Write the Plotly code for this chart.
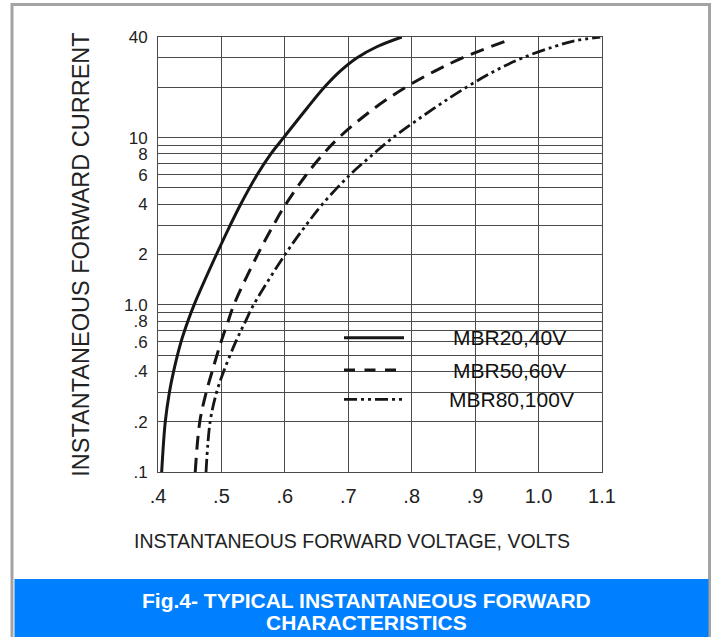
import plotly.graph_objects as go
import numpy as np

# ---- data ----
series_names = ["MBR20,40V", "MBR50,60V", "MBR80,100V"]

mbr20_v = [0.4058, 0.4115, 0.4180, 0.4246, 0.4363, 0.4472, 0.4569, 0.4921, 0.5139, 0.5304,
           0.5563, 0.5779, 0.5980, 0.6349, 0.6622, 0.6872, 0.7133, 0.7459, 0.7844]
mbr20_i = [0.1, 0.2, 0.3, 0.4, 0.6, 0.8, 1.0, 2, 3, 4, 6, 8, 10, 15, 20, 25, 30, 35.1, 40]

mbr50_v = [0.4587, 0.4659, 0.4761, 0.4854, 0.4994, 0.5107, 0.5196, 0.5571, 0.5867, 0.6015,
           0.6338, 0.6607, 0.6851, 0.7411, 0.7903, 0.8364, 0.8800, 0.9513]
mbr50_i = [0.1, 0.2, 0.3, 0.4, 0.6, 0.8, 1.0, 2, 3.22, 4, 6, 8, 10, 15, 20, 25, 30, 38.2]

mbr80_v = [0.4757, 0.4822, 0.4924, 0.5036, 0.5225, 0.5382, 0.5508, 0.6003, 0.6336, 0.6592,
           0.7027, 0.7399, 0.7703, 0.8355, 0.8861, 0.9306, 0.9747, 1.0242, 1.0583, 1.0972]
mbr80_i = [0.1, 0.2, 0.3, 0.4, 0.6, 0.8, 1.0, 2, 3, 4, 6, 8, 10, 15, 20, 25, 30, 35, 38, 40]

x_tickvals = [0.4, 0.5, 0.6, 0.7, 0.8, 0.9, 1.0, 1.1]
x_ticktext = [".4", ".5", ".6", ".7", ".8", ".9", "1.0", "1.1"]

y_gridvals = [0.1, 0.2, 0.3, 0.4, 0.5, 0.6, 0.7, 0.8, 0.9, 1, 2, 3, 4, 5, 6, 7, 8, 9, 10, 20, 30, 40]
y_labels = {0.1: ".1", 0.2: ".2", 0.4: ".4", 0.6: ".6", 0.8: ".8", 1: "1.0",
            2: "2", 4: "4", 6: "6", 8: "8", 10: "10", 40: "40"}
y_ticktext = [y_labels.get(v, "") for v in y_gridvals]

x_title = "INSTANTANEOUS FORWARD VOLTAGE, VOLTS"
y_title = "INSTANTANEOUS FORWARD CURRENT"
caption_lines = ["Fig.4- TYPICAL INSTANTANEOUS FORWARD", "CHARACTERISTICS"]

# ---- layout geometry (pixels) ----
W, H = 716, 637
L, R, T, B = 158, 114, 37, 165
PW, PH = W - L - R, H - T - B


def px(xp):
    return (xp - L) / PW


def py(yp):
    return (H - B - yp) / PH


FONT = "Liberation Sans, Arial, Helvetica, sans-serif"
ink = "#161616"
grid = "#4a4a4a"
dash_style = "14px,8px"
dashdot_style = "13px,4px,3px,4px,3px,4px"

fig = go.Figure()
fig.add_trace(go.Scatter(x=mbr20_v, y=mbr20_i, name=series_names[0], mode="lines",
                         line=dict(color=ink, width=3, shape="spline", smoothing=1.0), showlegend=False))
fig.add_trace(go.Scatter(x=mbr50_v, y=mbr50_i, name=series_names[1], mode="lines",
                         line=dict(color=ink, width=3, dash=dash_style, shape="spline", smoothing=1.0), showlegend=False))
fig.add_trace(go.Scatter(x=mbr80_v, y=mbr80_i, name=series_names[2], mode="lines",
                         line=dict(color=ink, width=2.8, dash=dashdot_style, shape="spline", smoothing=1.0), showlegend=False))

shapes = []
# outer grey frame
shapes.append(dict(type="rect", xref="paper", yref="paper",
                   x0=px(12), x1=px(709.5), y0=py(4.5), y1=py(660),
                   line=dict(color="#a3a3a3", width=3), fillcolor="rgba(0,0,0,0)", layer="below"))
# blue caption banner
shapes.append(dict(type="rect", xref="paper", yref="paper",
                   x0=px(14.5), x1=px(708.5), y0=py(579), y1=py(640),
                   line=dict(width=0), fillcolor="#0080ff", layer="above"))
# white legend box (hides gridlines, under curves)
shapes.append(dict(type="rect", xref="paper", yref="paper",
                   x0=px(306), x1=px(590), y0=py(439), y1=py(309),
                   line=dict(width=0), fillcolor="white", layer="between"))
# legend samples
legend_rows = [(337.7, None, 3), (370, "11px,9.5px", 3), (399.3, dashdot_style, 2.8)]
for yy, dsh, wd in legend_rows:
    ln = dict(color=ink, width=wd)
    if dsh:
        ln["dash"] = dsh
    shapes.append(dict(type="line", xref="paper", yref="paper",
                       x0=px(344), x1=px(404), y0=py(yy), y1=py(yy), line=ln, layer="above"))

annotations = []
label_x = [509, 509, 511]
for (yy, _, _), name, lx in zip(legend_rows, series_names, label_x):
    annotations.append(dict(xref="paper", yref="paper", x=px(lx), y=py(yy), text=name,
                            showarrow=False, xanchor="center", yanchor="middle",
                            font=dict(family=FONT, size=21, color="#111")))
# x axis title (placed as in the reference, left of the plot centre)
annotations.append(dict(xref="paper", yref="paper", x=px(352), y=py(541), text=x_title,
                        showarrow=False, xanchor="center", yanchor="middle",
                        font=dict(family=FONT, size=19.5, color="#222")))
for txt, yy in zip(caption_lines, [600, 622]):
    annotations.append(dict(xref="paper", yref="paper", x=px(366), y=py(yy),
                            text="<b>" + txt + "</b>", showarrow=False,
                            xanchor="center", yanchor="middle",
                            font=dict(family=FONT, size=21, color="white")))

fig.update_layout(
    width=W, height=H,
    margin=dict(l=L, r=R, t=T, b=B),
    paper_bgcolor="white", plot_bgcolor="white",
    font=dict(family=FONT, color="#222"),
    shapes=shapes, annotations=annotations,
    xaxis=dict(range=[0.4, 1.1], tickvals=x_tickvals, ticktext=x_ticktext,
               showgrid=True, gridcolor=grid, gridwidth=1, zeroline=False,
               showline=True, linecolor=grid, linewidth=1, mirror=True,
               ticks="", ticklabelstandoff=6, tickfont=dict(size=20)),
    yaxis=dict(type="log", range=[-1, np.log10(40)], tickvals=y_gridvals, ticktext=y_ticktext,
               showgrid=True, gridcolor=grid, gridwidth=1, zeroline=False,
               showline=True, linecolor=grid, linewidth=1, mirror=True,
               ticks="", ticklabelstandoff=6, tickfont=dict(size=17),
               title=dict(text=y_title, font=dict(size=23.5), standoff=27)),
)

fig.write_html("out.html", config={"displayModeBar": False},
               post_script="document.body.style.margin='0px';")
